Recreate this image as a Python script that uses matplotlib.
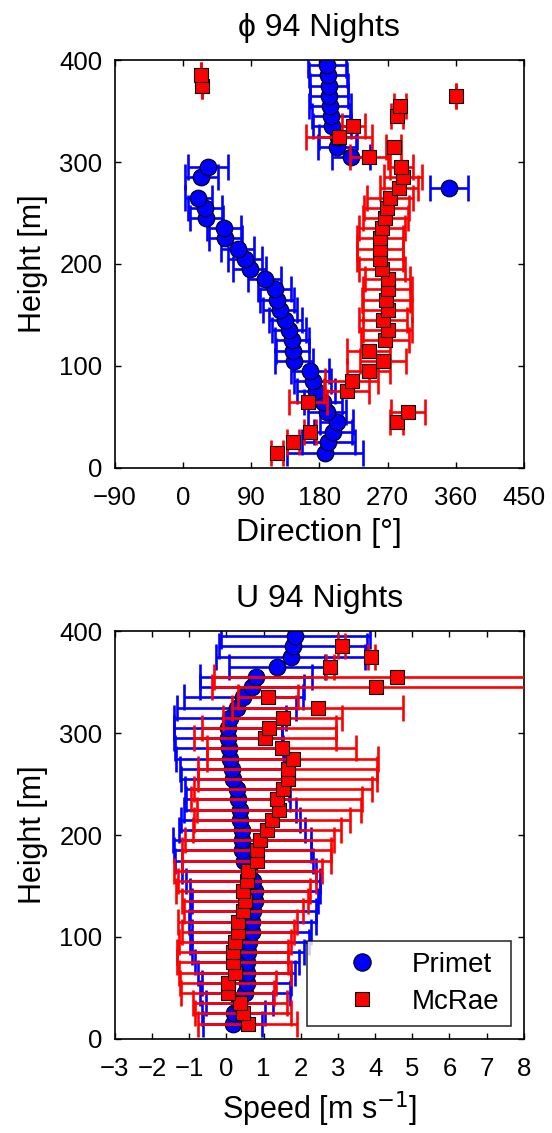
import numpy as np
import matplotlib
matplotlib.use('Agg')
import matplotlib.pyplot as plt
from matplotlib.lines import Line2D

plt.rcParams['font.family'] = ['Liberation Sans', 'DejaVu Sans']
plt.rcParams['axes.unicode_minus'] = True

# heights [m]
h_primet = [15, 25, 35, 45, 55, 65, 75, 85, 95, 105, 115, 125, 135, 145, 155,
            165, 175, 185, 195, 205, 215, 225, 235, 245, 255, 265, 275, 285,
            295, 305, 315, 325, 335, 345, 355, 365, 375, 385, 395]
h_mcrae = [15, 25, 35, 45, 55, 65, 75, 85, 95, 105, 115, 125, 135, 145, 155,
           165, 175, 185, 195, 205, 215, 225, 235, 245, 255, 265, 275, 285,
           295, 305, 315, 325, 335, 345, 355, 365, 375, 385]

# direction [deg]
dir_primet = [187, 192, 198, 203, 190, 185, 176, 171, 168, 147, 145, 144, 140,
              135, 128, 124, 121, 108, 88, 82, 72, 56, 54, 31, 29, 20, 351, 24,
              33, 222, 203, 205, 197, 195, 194, 193, 193, 192, 190]
dir_primet_err = [50, 35, 25, 22, 25, 25, 25, 25, 25, 25, 22, 22, 22, 22, 22,
                  22, 22, 22, 22, 22, 22, 22, 22, 22, 22, 18, 25, 22, 27, 25,
                  25, 25, 25, 25, 28, 25, 25, 25, 25]
dir_mcrae = [124, 145, 168, 282, 297, 165, 216, 223, 245, 264, 245, 267, 270,
             264, 270, 268, 270, 270, 263, 260, 260, 260, 263, 267, 269, 273,
             285, 291, 288, 245, 278, 206, 225, 282, 287, 360, 25, 24]
dir_mcrae_err = [8, 8, 8, 9, 23, 25, 30, 35, 28, 30, 28, 32, 32, 32, 32, 32,
                 32, 30, 30, 30, 30, 30, 30, 30, 30, 30, 25, 25, 15, 25, 10,
                 44, 15, 8, 8, 0, 0, 0]

# speed [m/s]
spd_primet = [0.17, 0.2, 0.35, 0.5, 0.55, 0.55, 0.55, 0.58, 0.62, 0.68, 0.7,
              0.72, 0.77, 0.77, 0.72, 0.6, 0.48, 0.43, 0.42, 0.42, 0.37, 0.36,
              0.31, 0.28, 0.18, 0.15, 0.1, 0.08, 0.05, 0.05, 0.1, 0.28, 0.45,
              0.68, 0.8, 1.36, 1.73, 1.79, 1.85]
spd_primet_err = [0.8, 0.85, 0.9, 1.2, 1.2, 1.3, 1.4, 1.5, 1.6, 1.6, 1.7, 1.7,
                  1.7, 1.75, 1.8, 1.8, 1.85, 1.85, 1.85, 1.7, 1.6, 1.5, 1.4,
                  1.4, 1.4, 1.4, 1.45, 1.45, 1.45, 1.45, 1.5, 1.6, 1.6, 1.4,
                  1.5, 1.3, 2.0, 2.0, 2.0]
spd_mcrae = [0.58, 0.45, 0.36, 0.04, 0.04, 0.23, 0.17, 0.17, 0.23, 0.31, 0.31,
             0.45, 0.5, 0.45, 0.55, 0.58, 0.82, 0.82, 0.9, 1.09, 1.22, 1.41,
             1.36, 1.52, 1.65, 1.65, 1.79, 1.49, 1.04, 1.14, 1.52, 2.46, 1.12,
             4.02, 4.58, 2.79, 3.9, 3.1]
spd_mcrae_err = [1.33, 1.3, 1.27, 1.25, 1.3, 1.5, 1.5, 1.5, 1.5, 1.5, 1.6, 1.6,
                 1.7, 1.8, 1.85, 2.0, 2.0, 2.0, 2.0, 2.0, 2.1, 2.2, 2.3, 2.4,
                 2.4, 2.4, 2.3, 2.0, 1.9, 1.8, 1.6, 2.3, 0.8, 4.4, 4.9, 0.1,
                 0.1, 0.1]

fig = plt.figure(figsize=(5.52, 11.33), dpi=100)
ax1 = fig.add_axes([0.208, 0.587, 0.741, 0.360])
ax2 = fig.add_axes([0.208, 0.083, 0.741, 0.360])

blue = (0, 0, 1)
red = (1, 0, 0)


def draw(ax, x, xerr, y, color, marker, ms, z):
    ax.errorbar(x, y, xerr=xerr, fmt='none', ecolor=color, elinewidth=1.9,
                capsize=9.5, capthick=1.9, zorder=z)
    ax.plot(x, y, linestyle='none', marker=marker, ms=ms, mfc=color,
            mec='k', mew=0.8, zorder=z + 0.5)


draw(ax1, dir_primet, dir_primet_err, h_primet, blue, 'o', 12, 2)
draw(ax1, dir_mcrae, dir_mcrae_err, h_mcrae, red, 's', 10, 3)
draw(ax2, spd_primet, spd_primet_err, h_primet, blue, 'o', 12, 2)
draw(ax2, spd_mcrae, spd_mcrae_err, h_mcrae, red, 's', 10, 3)

ax1.set_xlim(-90, 450)
ax1.set_xticks([-90, 0, 90, 180, 270, 360, 450])
ax1.set_title('ϕ 94 Nights', fontsize=23, pad=17)
ax1.set_xlabel('Direction [°]', fontsize=23, labelpad=6)

ax2.set_xlim(-3, 8)
ax2.set_xticks(range(-3, 9))
ax2.set_title('U 94 Nights', fontsize=23, pad=17)
ax2.set_xlabel('Speed [m s$^{-1}$]', fontsize=22, labelpad=6)

for ax in (ax1, ax2):
    ax.set_ylim(0, 400)
    ax.set_yticks([0, 100, 200, 300, 400])
    ax.set_ylabel('Height [m]', fontsize=22, labelpad=8)
    ax.tick_params(direction='in', top=True, right=True, length=4,
                   width=1, labelsize=18.5)
    ax.tick_params(axis='x', pad=13)
    ax.tick_params(axis='y', pad=9)
    for s in ax.spines.values():
        s.set_linewidth(1.2)

handles = [Line2D([], [], ls='none', marker='o', ms=12.5, mfc=blue, mec='k',
                  mew=0.8),
           Line2D([], [], ls='none', marker='s', ms=10, mfc=red, mec='k',
                  mew=0.8)]
leg = ax2.legend(handles, ['Primet', 'McRae'], loc='lower right',
                 fontsize=20, frameon=True, fancybox=False, edgecolor='k',
                 handletextpad=0.2, handlelength=3.2, borderaxespad=0.47,
                 borderpad=0.4, labelspacing=0.4)
leg.get_frame().set_linewidth(1.2)

fig.savefig('out.png', dpi=100)
